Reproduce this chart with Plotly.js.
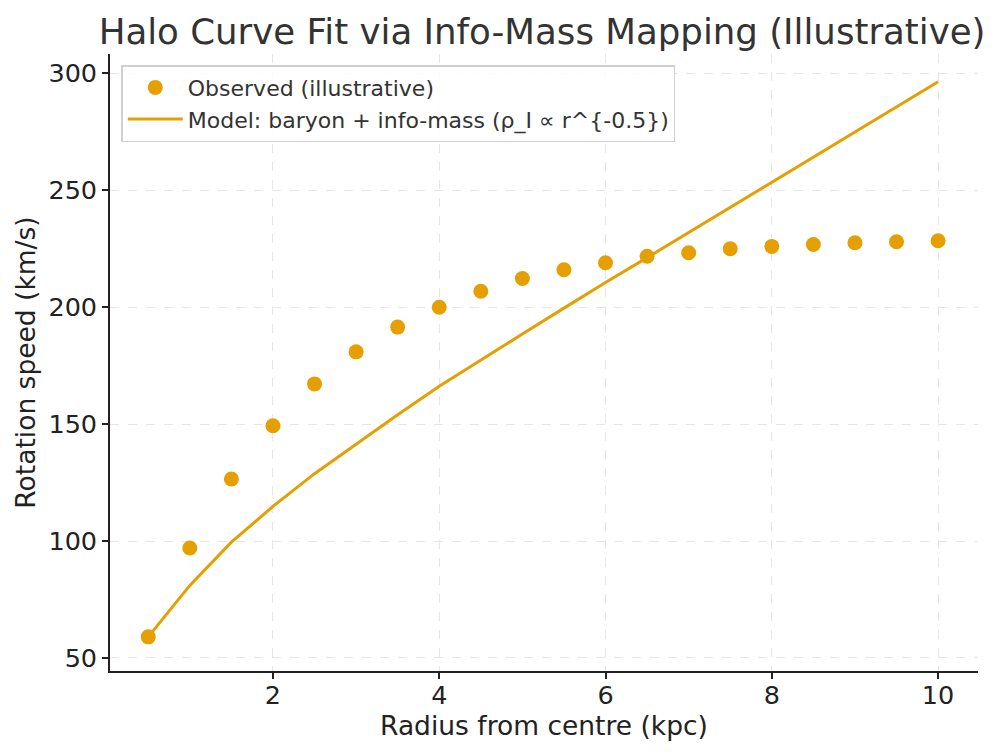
<!DOCTYPE html>
<html>
<head>
<meta charset="utf-8">
<script src="https://cdn.plot.ly/plotly-3.0.1.min.js"></script>
<style>html,body{margin:0;padding:0;background:#fff;}#chart{width:1002px;height:756px;}</style>
</head>
<body>
<div id="chart"></div>
<script>
const radius = [0.5,1,1.5,2,2.5,3,3.5,4,4.5,5,5.5,6,6.5,7,7.5,8,8.5,9,9.5,10];
const observed = [59,97,126.5,149.3,167.2,180.9,191.5,200,206.8,212.3,216,219,221.8,223.3,225,226,226.8,227.6,228,228.4];
const model = [59,81,99.5,114.8,128.8,141.6,154,166.2,177.5,188.5,199.6,210.6,221.2,231.9,242.6,253.4,264,274.8,285.5,296.4];
const xTicks = [2,4,6,8,10];
const yTicks = [50,100,150,200,250,300];
const col = '#E69F00';

const traces = [
  {x: radius, y: observed, mode: 'markers', type: 'scatter', name: 'Observed (illustrative)',
   marker: {color: col, size: 15}},
  {x: radius, y: model, mode: 'lines', type: 'scatter', name: 'Model: baryon + info-mass (ρ_I ∝ r^{-0.5})',
   line: {color: col, width: 3}}
];

const layout = {
  width: 1002, height: 756,
  paper_bgcolor: '#fff', plot_bgcolor: '#fff',
  font: {family: 'DejaVu Sans, sans-serif', color: '#222', size: 25},
  margin: {l: 110, r: 24, t: 54, b: 85},
  title: {text: 'Halo Curve Fit via Info-Mass Mapping (Illustrative)', font: {size: 35.6, color: '#333'},
          x: 0.541, xanchor: 'center', y: 0.958, yanchor: 'middle'},
  xaxis: {range: [0.04, 10.48], tickvals: xTicks, ticks: 'outside', ticklen: 6, tickwidth: 1.5, tickcolor: '#222',
          showline: true, linecolor: '#222', linewidth: 1.6, mirror: false, zeroline: false,
          showgrid: true, gridcolor: '#e6e6e6', griddash: 'dash', gridwidth: 1,
          tickfont: {size: 25.5}, ticklabelstandoff: -5,
          title: {text: 'Radius from centre (kpc)', font: {size: 26.5, color: '#222'}, standoff: 3}},
  yaxis: {range: [44.4, 308.3], tickvals: yTicks, ticks: 'outside', ticklen: 6, tickwidth: 1.5, tickcolor: '#222',
          showline: true, linecolor: '#222', linewidth: 1.6, mirror: false, zeroline: false,
          showgrid: true, gridcolor: '#e6e6e6', griddash: 'dash', gridwidth: 1,
          tickfont: {size: 25.5},
          title: {text: 'Rotation speed (km/s)', font: {size: 26.5, color: '#222'}, standoff: 5}},
  showlegend: true,
  legend: {x: 0.013, y: 0.982, xanchor: 'left', yanchor: 'top', bgcolor: 'rgba(255,255,255,0.85)',
           bordercolor: '#d0d0d0', borderwidth: 1.5, font: {size: 22, color: '#333'}, tracegroupgap: 0,
           itemwidth: 55}
};

Plotly.newPlot('chart', traces, layout, {displayModeBar: false});
</script>
</body>
</html>
